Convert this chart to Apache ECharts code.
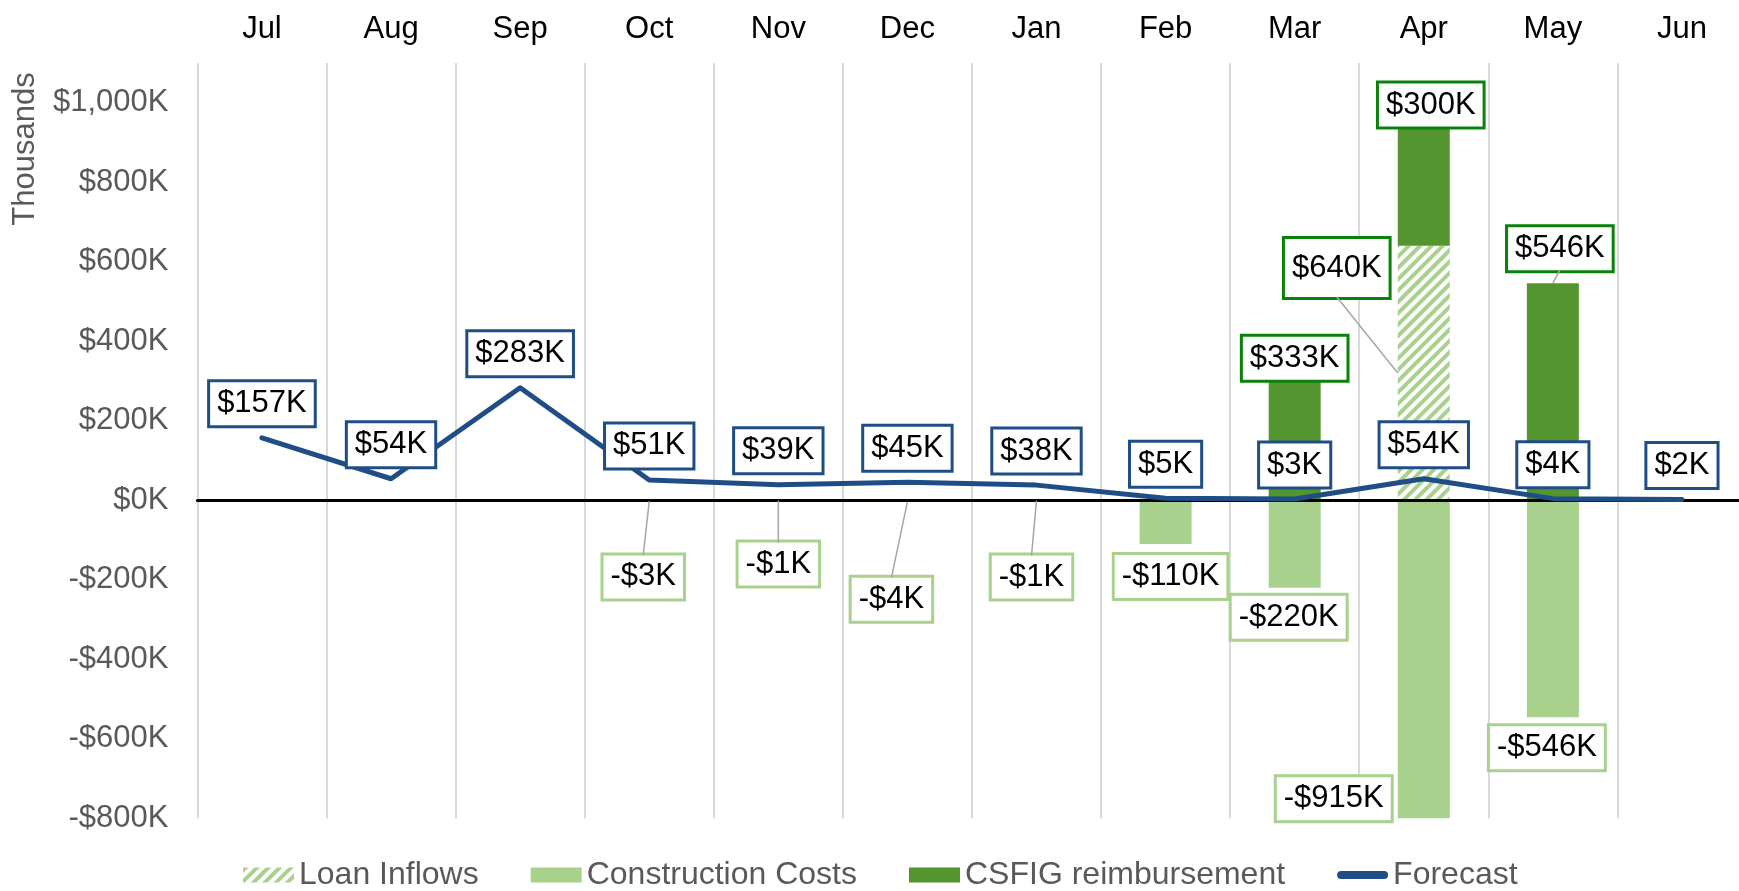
<!DOCTYPE html>
<html><head><meta charset="utf-8">
<script src="https://cdn.jsdelivr.net/npm/echarts@6/dist/echarts.min.js"></script>
<style>html,body{margin:0;padding:0;background:#fff}#c{width:1739px;height:891px}</style>
</head><body><div id="c"></div>
<script>
// ---- data ----
const months = ['Jul', 'Aug', 'Sep', 'Oct', 'Nov', 'Dec', 'Jan', 'Feb', 'Mar', 'Apr', 'May', 'Jun'];
const loanInflows = [null, null, null, null, null, null, null, null, null, 640, null, null];
const constructionCosts = [null, null, null, -3, -1, -4, -1, -110, -220, -915, -546, null];
const csfigReimbursement = [null, null, null, null, null, null, null, null, 333, 300, 546, null];
const forecast = [157, 54, 283, 51, 39, 45, 38, 5, 3, 54, 4, 2];
const legendNames = ['Loan Inflows', 'Construction Costs', 'CSFIG reimbursement', 'Forecast'];

// ---- style ----
const FONT = "'Liberation Sans', Arial, Helvetica, sans-serif";
const BLUE = '#1F4E87', LIGHT = '#A9D18E', DARK = '#559530', LABELGREEN = '#0A820A', LEADER = '#A6A6A6';
const BAR_W = 52, LINE_H = 35, PAD = [4, 7];
const fmt = v => (v < 0 ? '-$' : '$') + Math.abs(v).toLocaleString('en-US') + 'K';

function boxLabel(border, extra) {
  return Object.assign({
    show: true, formatter: p => fmt(p.value), color: '#000', fontFamily: FONT,
    fontSize: 31, lineHeight: LINE_H, backgroundColor: '#fff', borderColor: border,
    borderWidth: 3, padding: PAD
  }, extra);
}

// per-item label placement (pixel offsets from default label position); line = leader line
const costLabelStyle = {
  3: { offset: [-6, 54], line: true }, 4: { offset: [0, 42], line: true },
  5: { offset: [-16, 76], line: true }, 6: { offset: [-5, 55], line: true },
  7: { offset: [5, 11] }, 8: { offset: [-6, 8] }, 9: { offset: [-90, -41] }, 10: { offset: [-6, 9] }
};
const csfigLabelStyle = { 8: { offset: [0, 12] }, 9: { offset: [7, 0] }, 10: { offset: [7, -13], line: true } };
const loanLabelStyle = { 9: { offset: [-87, -105], line: true, padding: [11.5, 7] } };

function items(values, styleMap) {
  return values.map((v, i) => {
    if (v == null) return null;
    const s = styleMap[i] || {};
    const item = { value: v, label: { offset: s.offset || [0, 0] } };
    if (s.padding) item.label.padding = s.padding;
    return item;
  });
}

const chart = echarts.init(document.getElementById('c'), null, { renderer: 'canvas' });
const thousands = {
  id: 'thousands', type: 'text', x: 25, y: 149, rotation: Math.PI / 2, silent: true,
  style: { text: 'Thousands', fill: '#595959', fontSize: 31, fontFamily: FONT, align: 'center', verticalAlign: 'middle' }
};
chart.setOption({
  animation: false,
  backgroundColor: '#fff',
  grid: { left: 197.4, right: -7.5, top: 63, bottom: 72.8, containLabel: false, outerBoundsMode: 'none' },
  graphic: [thousands],
  legend: {
    top: 854, left: 238, itemWidth: 51, itemHeight: 15, itemGap: 52, selectedMode: false,
    textStyle: { fontSize: 32, color: '#595959', fontFamily: FONT },
    data: [
      { name: legendNames[0], icon: 'rect' },
      { name: legendNames[1], icon: 'rect' },
      { name: legendNames[2], icon: 'rect' },
      { name: legendNames[3], icon: 'path://M4,0L47,0A4,4,0,0,1,47,8L4,8A4,4,0,0,1,4,0Z' }
    ]
  },
  xAxis: [
    {
      type: 'category', data: months, position: 'top', boundaryGap: true,
      axisLine: { show: false, onZero: false }, axisTick: { show: false },
      axisLabel: { color: '#000', fontSize: 31, fontFamily: FONT, margin: 18, interval: 0 },
      splitLine: { show: true, interval: 0, lineStyle: { color: '#D9D9D9', width: 2 } }
    },
    {
      type: 'category', data: months, position: 'bottom', z: 3,
      axisLine: { show: true, onZero: true, lineStyle: { color: '#000', width: 3 } },
      axisTick: { show: false }, axisLabel: { show: false }, splitLine: { show: false }
    }
  ],
  yAxis: {
    type: 'value', min: -800, max: 1100, interval: 200,
    axisLine: { show: false }, axisTick: { show: false }, splitLine: { show: false },
    axisLabel: { formatter: fmt, color: '#595959', fontSize: 31, fontFamily: FONT, margin: 29, showMaxLabel: false, showMinLabel: true }
  },
  series: [
    {
      name: legendNames[0], type: 'bar', stack: 'total', barWidth: BAR_W,
      data: items(loanInflows, loanLabelStyle),
      itemStyle: {
        color: '#fff',
        decal: { symbol: 'rect', symbolSize: 1, dashArrayX: [1, 0], dashArrayY: [4, 4], rotation: -Math.PI / 4, color: LIGHT }
      },
      label: boxLabel(LABELGREEN, { position: 'inside' })
    },
    {
      name: legendNames[1], type: 'bar', stack: 'total', barWidth: BAR_W,
      data: items(constructionCosts, costLabelStyle),
      itemStyle: { color: LIGHT },
      label: boxLabel(LIGHT, { position: 'bottom', distance: 0 })
    },
    {
      name: legendNames[2], type: 'bar', stack: 'total', barWidth: BAR_W,
      data: items(csfigReimbursement, csfigLabelStyle),
      itemStyle: { color: DARK },
      label: boxLabel(LABELGREEN, { position: 'top', distance: 0 })
    },
    {
      name: legendNames[3], type: 'line', data: forecast, z: 5,
      symbol: 'circle', symbolSize: 1, showSymbol: true,
      lineStyle: { color: BLUE, width: 5, cap: 'round', join: 'round' },
      itemStyle: { color: BLUE },
      label: boxLabel(BLUE, { position: 'top', distance: 12 })
    }
  ]
});

// ---- leader lines, anchored through the chart's own scales ----
const toPx = (i, v) => chart.convertToPixel({ xAxisIndex: 0, yAxisIndex: 0 }, [i, v]);
const leaders = [];
function leader(id, p1, p2) {
  leaders.push({ id, type: 'line', z: 4, silent: true,
    shape: { x1: p1[0], y1: p1[1], x2: p2[0], y2: p2[1] },
    style: { stroke: LEADER, lineWidth: 1.5 } });
}
Object.keys(costLabelStyle).forEach(k => {
  const i = +k, s = costLabelStyle[k];
  if (!s.line) return;
  const end = toPx(i, constructionCosts[i]);
  leader('lc' + i, end, [end[0] + s.offset[0], end[1] + s.offset[1]]);
});
Object.keys(csfigLabelStyle).forEach(k => {
  const i = +k, s = csfigLabelStyle[k];
  if (!s.line) return;
  const top = toPx(i, (loanInflows[i] || 0) + csfigReimbursement[i]);
  leader('ls' + i, top, [top[0] + s.offset[0], top[1] + s.offset[1]]);
});
Object.keys(loanLabelStyle).forEach(k => {
  const i = +k, s = loanLabelStyle[k];
  if (!s.line) return;
  const base = toPx(i, 0), top = toPx(i, loanInflows[i]);
  const mid = [base[0], (base[1] + top[1]) / 2];
  const labelBottom = [mid[0] + s.offset[0], mid[1] + s.offset[1] + (LINE_H + 2 * s.padding[0]) / 2];
  leader('ll' + i, labelBottom, [mid[0] - BAR_W / 2, mid[1]]);
});
chart.setOption({ graphic: [thousands].concat(leaders) });
</script></body></html>
